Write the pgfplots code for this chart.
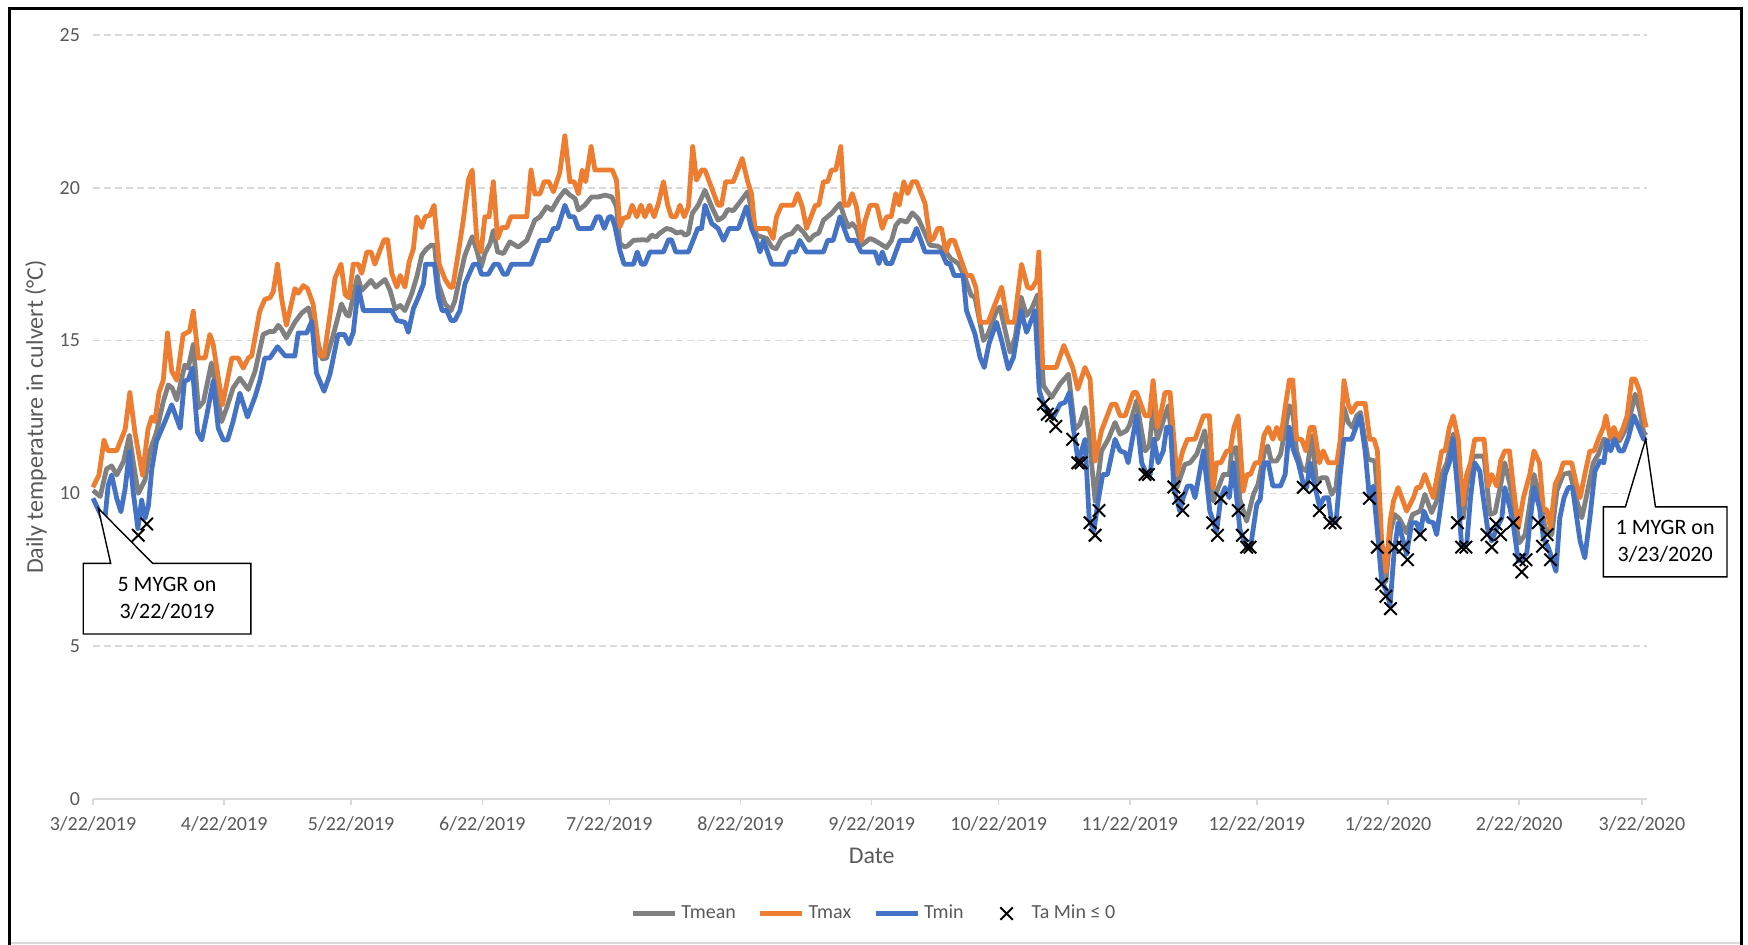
\documentclass[border=0pt]{standalone}
\usepackage{pgfplots}
\pgfplotsset{compat=1.18}
\usepackage{fontspec}
\setmainfont{Carlito}
\definecolor{tmax}{HTML}{ED7D31}
\definecolor{tmean}{HTML}{808080}
\definecolor{tmin}{HTML}{4472C4}
\definecolor{lab}{HTML}{595959}
\definecolor{grd}{HTML}{D9D9D9}
\pgfplotsset{lineleg/.style={legend image code/.code={\draw[##1] (0pt,0pt) -- (21pt,0pt);}},
  markleg/.style={legend image code/.code={\path[draw=none,fill=none] (0pt,0pt) -- (21pt,0pt); \draw[##1] plot coordinates {(10.5pt,0pt)};}}}
\begin{document}
\begin{tikzpicture}
\begin{axis}[
  at={(0pt,0pt)}, anchor=south west,
  scale only axis, width=777.2pt, height=382pt,
  xmin=0, xmax=367.3, ymin=0, ymax=25,
  clip=false,
  axis x line*=bottom, axis y line*=left,
  x axis line style={draw=grd, line width=0.75pt, -},
  y axis line style={draw=none},
  xtick={0,31,61,92,122,153,184,214,245,275,306,337,366},
  xticklabels={3/22/2019,4/22/2019,5/22/2019,6/22/2019,7/22/2019,8/22/2019,9/22/2019,10/22/2019,11/22/2019,12/22/2019,1/22/2020,2/22/2020,3/22/2020},
  ytick={0,5,...,25},
  xtick style={draw=grd, line width=0.75pt},
  ytick style={draw=none},
  tick align=outside, major tick length=3pt,
  ymajorgrids, grid style={draw=grd, line width=0.75pt, dash pattern=on 3.5pt off 2pt},
  /pgf/number format/assume math mode=true,
  ticklabel style={font=\fontsize{10}{12}\selectfont, text=lab},
  xticklabel style={yshift=-2.2pt},
  xlabel={Date}, ylabel={Daily temperature in culvert (°C)},
  label style={font=\fontsize{12}{14}\selectfont, text=lab},
  xlabel style={at={(axis description cs:0.501,-0.0746)}, anchor=center},
  ylabel style={at={(axis description cs:-0.0367,0.5)}, anchor=center},
  legend columns=4,
  legend style={at={(0.503,-0.15)}, anchor=center, draw=none, fill=none,
    font=\fontsize{10}{12}\selectfont, text=lab,
    /tikz/every even column/.append style={column sep=9pt}},
  legend cell align=left,
]
\addplot[tmean, line width=2.4pt, line join=round, lineleg] coordinates {
(0,10.1) (1.7,9.9) (3.2,10.8) (4.4,10.9) (5.6,10.6) (7.2,11.04) (8.6,11.9) (9.5,11.04) (10.7,10.0) (12.3,10.44)
(13.5,11.4) (15,12.0) (16.6,13.0) (17.8,13.55) (18.7,13.45) (19.8,13.06) (21.7,14.2) (22.5,14.1) (23.7,14.87) (24.9,12.8)
(26.1,13.0) (28,14.27) (29.2,13.34) (30.4,12.35) (31.6,12.8) (33.1,13.45) (34.7,13.77) (36.7,13.4) (38.3,14.0) (40.2,15.2)
(41.8,15.3) (42.8,15.3) (43.8,15.5) (44.6,15.36) (45.7,15.09) (47.7,15.6) (49.3,15.9) (50.9,16.07) (52,15.5) (54.2,14.4)
(55.2,14.43) (56.8,15.2) (58.7,16.2) (59.9,15.85) (60.5,15.8) (62.5,17.1) (63.5,16.64) (65.7,16.97) (66.8,16.75) (69,17.0)
(70.2,16.64) (71.4,16.04) (72.6,16.15) (73.7,15.98) (75.3,16.53) (76.5,17.08) (77.7,17.8) (78.8,18.0) (79.9,18.12) (80.7,18.12)
(81.6,16.86) (83.2,16.2) (84.6,15.98) (85.5,16.3) (86.7,17.08) (87.9,17.8) (89.6,18.4) (90.7,17.95) (91.7,17.4) (92.6,17.85)
(93.8,18.17) (94.6,18.6) (95.6,17.9) (97,17.85) (98.5,18.23) (100.5,18.06) (102.5,18.28) (104.4,18.94) (105.6,19.05) (107.2,19.38)
(108.4,19.27) (110,19.65) (111.5,19.92) (112.7,19.76) (113.9,19.65) (114.7,19.27) (116.2,19.43) (117.8,19.7) (119.4,19.7) (121,19.76)
(122.6,19.7) (123.7,19.38) (124.5,18.17) (125.7,18.06) (126.5,18.12) (127.7,18.28) (130,18.3) (131,18.28) (132,18.45) (133,18.39)
(134,18.52) (135.5,18.67) (136.7,18.63) (137.9,18.52) (139,18.56) (139.9,18.45) (140.7,18.5) (141.6,19.16) (143,19.43) (144.6,19.92)
(146.2,19.38) (147.7,18.94) (149,19.05) (150,19.29) (151.3,19.25) (152.9,19.54) (154.7,19.87) (155.6,19.27) (156.8,18.45) (159.2,18.34)
(160.4,18.06) (161.4,18.0) (162.7,18.34) (163.9,18.45) (165.1,18.5) (166.5,18.74) (167.8,18.56) (169.2,18.28) (170.4,18.45) (171.5,18.52)
(172.6,18.94) (174.5,19.16) (176.5,19.49) (177.5,19.05) (178.5,18.72) (179.4,18.83) (180.4,18.67) (181.6,18.12) (183.6,18.34) (184.4,18.3)
(186,18.17) (187.5,18.04) (188.7,18.28) (189.7,18.77) (190.7,18.94) (192.3,18.88) (193.6,19.18) (195,18.99) (196.6,18.5) (197.8,18.12)
(199.6,18.09) (201.3,17.95) (202.7,17.68) (204.5,17.52) (206,17.08) (207.5,16.48) (208.4,16.42) (210.4,15.0) (211.5,15.22) (213.5,15.98)
(214.3,16.1) (216.7,14.62) (217.9,15.1) (219.3,16.42) (220.6,15.82) (221.8,16.04) (223.2,16.5) (224.6,13.52) (226.5,13.14) (228.5,13.58)
(230.5,13.9) (232,12.1) (233.2,12.26) (234.4,12.81) (235.2,12.1) (236.8,9.75) (238.3,11.39) (239.9,11.77) (241.5,12.32) (242.7,11.94)
(244.2,12.05) (245,12.26) (246.6,13.03) (247.4,12.32) (248.6,11.39) (249.6,11.55) (250.5,12.81) (251.5,11.77) (252.9,12.37) (254.1,12.87)
(256.1,10.19) (258,10.95) (259.2,11.0) (260.8,11.28) (262.7,12.05) (264.7,9.75) (265.9,10.19) (267.1,10.62) (268.5,10.62) (269.1,11.44)
(270.1,11.5) (271,9.8) (272.6,9.09) (274.2,9.97) (275.3,10.3) (276.9,11.44) (277.6,11.55) (278.4,11.06) (279.7,11.06) (280.6,11.28)
(281.7,12.05) (282.7,12.87) (283.5,12.7) (284.4,11.39) (285.6,10.84) (286.8,10.73) (288,11.88) (289.1,10.4) (290.3,10.51) (291.5,10.51)
(292.7,9.97) (293.7,10.19) (294.7,11.5) (295.6,12.81) (296.6,12.32) (297.6,12.16) (298.6,12.54) (299.5,12.65) (301.3,11.12) (302.9,11.06)
(304.5,8.22) (305.5,7.12) (306.6,8.76) (307.6,9.31) (308.8,9.15) (310.4,8.71) (311.8,9.31) (313.6,9.42) (314.7,9.97) (316.3,9.37)
(317.5,9.75) (318.7,10.62) (319.9,11.0) (321.4,11.94) (322.6,11.39) (323.8,9.2) (324.7,10.3) (326.2,11.22) (328.7,11.22) (330.1,9.31)
(331.3,9.37) (332.5,10.19) (333.6,11.0) (334.8,10.3) (336,9.2) (337,8.38) (338.4,8.65) (339.5,9.64) (340.5,10.62) (341.8,9.91)
(343.1,8.87) (344.7,8.65) (345.9,10.08) (347.4,10.62) (349,10.68) (350.4,9.86) (351.8,9.2) (353,9.97) (354.5,11.0) (355.7,11.28)
(357,11.77) (358.1,11.72) (359.2,11.83) (360.7,11.72) (362.4,12.16) (363.6,12.76) (364.4,13.25) (365.5,12.7) (366.4,11.99) (367,11.9)
};
\addlegendentry{Tmean}
\addplot[tmax, line width=2.4pt, line join=round, lineleg] coordinates {
(0,10.2) (1.4,10.6) (2.6,11.75) (3.5,11.4) (5.6,11.4) (7.6,12.1) (8.7,13.3) (9.9,12.0) (11.7,10.6) (13,12.1)
(13.9,12.5) (14.6,12.35) (15.6,13.3) (16.6,13.7) (17.6,15.25) (18.6,14.0) (19.8,13.7) (21.3,15.2) (22.8,15.3) (23.7,15.96)
(24.9,14.43) (26.5,14.43) (27.6,15.2) (28.4,14.87) (30.6,12.9) (32.8,14.43) (34.3,14.43) (35.5,14.1) (36.7,14.43) (37.5,14.5)
(39.4,15.96) (40.6,16.35) (41.8,16.4) (42.6,16.6) (43.6,17.5) (44.6,16.35) (45.7,15.5) (47.7,16.7) (48.5,16.55) (49.7,16.8)
(50.7,16.7) (52,16.2) (53.6,14.5) (54.6,14.5) (56,15.85) (57.2,17.05) (58.6,17.5) (59.6,16.5) (60.5,16.4) (61.5,17.5)
(62.7,17.5) (63.5,17.2) (64.7,17.9) (65.7,17.9) (66.6,17.5) (67.8,17.95) (68.8,18.3) (69.6,18.3) (70.6,17.2) (71.8,16.75)
(72.6,17.13) (73.7,16.75) (74.7,17.57) (75.7,18.0) (76.5,19.05) (77.7,18.7) (78.5,19.05) (79.6,19.1) (80.6,19.43) (81.8,17.5)
(83.2,17.0) (84.4,16.75) (85,16.75) (86.3,17.85) (87.5,18.94) (88.7,20.25) (89.6,20.58) (90.7,18.28) (91.7,17.9) (92.6,19.05)
(93.6,19.05) (94.6,20.2) (95.6,18.34) (96.6,18.7) (97.8,18.7) (98.7,19.05) (102.5,19.05) (103.5,20.58) (104.4,19.8) (105.6,19.8)
(106.6,20.2) (107.7,20.2) (108.8,19.87) (110.3,20.5) (111.5,21.7) (112.7,20.2) (113.7,20.2) (114.7,19.8) (115.6,20.58) (116.4,20.2)
(117.7,21.35) (118.6,20.58) (122.7,20.58) (123.7,20.25) (124.5,18.72) (125.3,19.0) (126.5,19.05) (127.4,19.43) (128.5,19.05) (129.5,19.43)
(130.4,19.05) (131.5,19.43) (132.6,19.05) (133.6,19.49) (134.8,20.2) (135.8,19.43) (136.7,19.05) (137.7,19.05) (138.7,19.43) (139.7,19.05)
(140.7,19.38) (141.7,21.35) (142.6,20.25) (143.8,20.58) (144.6,20.58) (147.7,19.43) (148.5,19.43) (149.5,20.2) (151.3,20.2) (153.4,20.96)
(154.7,20.2) (155.6,19.81) (156.4,18.67) (159.6,18.67) (160.7,18.34) (161.5,19.05) (162.7,19.43) (165.5,19.43) (166.5,19.81) (167.6,19.38)
(168.6,18.67) (170.7,19.43) (171.5,19.43) (172.6,20.2) (173.6,20.2) (174.5,20.58) (175.5,20.58) (176.7,21.35) (177.5,19.43) (178.5,19.43)
(179.4,19.81) (180.4,19.38) (181.6,18.28) (182.4,18.9) (183.6,19.43) (185.2,19.43) (186.5,18.67) (187.5,19.05) (188.6,19.05) (189.7,19.81)
(190.5,19.43) (191.6,20.2) (192.5,19.81) (193.6,20.2) (194.6,20.2) (196.6,19.49) (197.8,18.28) (198.6,18.34) (199.6,18.67) (200.5,18.67)
(201.5,17.9) (202.5,18.28) (203.5,18.28) (206.4,17.13) (207.6,17.13) (208.6,16.75) (209.6,15.6) (211.5,15.6) (214.7,16.75) (216.1,15.6)
(217.7,15.6) (219.4,17.5) (220.8,16.75) (221.8,16.7) (223,16.97) (223.5,17.9) (224.4,14.12) (227.6,14.12) (229.4,14.84) (231.5,14.12)
(232.7,13.41) (234.4,14.12) (235.6,13.74) (236.8,11.06) (238.3,12.05) (240.7,12.92) (241.7,12.92) (242.7,12.54) (243.9,12.54) (245.8,13.3)
(246.6,13.3) (248.6,12.54) (249.6,12.54) (250.5,13.69) (251.5,12.16) (252.3,12.6) (253.3,13.3) (254.5,13.3) (256.1,10.62) (257.5,11.39)
(258.6,11.77) (260.4,11.77) (262.4,12.54) (263.8,12.54) (264.7,10.19) (265.5,11.0) (266.5,11.0) (267.9,11.39) (268.7,11.39) (269.6,12.16)
(270.6,12.54) (271.8,10.08) (272.7,10.62) (273.5,10.62) (274.6,11.0) (275.7,11.0) (276.7,11.9) (277.7,12.16) (278.8,11.77) (279.7,12.16)
(280.6,11.77) (281.7,12.81) (282.7,13.71) (283.5,13.71) (284.4,11.77) (285.6,11.77) (286.6,11.39) (287.6,12.16) (288.5,12.16) (289.8,11.0)
(290.7,11.39) (291.9,11.0) (293.9,11.0) (294.7,11.72) (295.6,13.69) (296.6,12.92) (297.4,12.65) (298.6,12.94) (300.6,12.94) (301.7,11.77)
(302.7,11.77) (303.5,11.39) (304.5,8.44) (305.5,7.45) (306.5,9.09) (307.3,9.75) (308.4,10.19) (310.4,9.42) (312,9.86) (312.8,10.19)
(313.6,10.19) (314.7,10.62) (316.7,9.86) (318.7,11.39) (319.5,11.39) (320.5,12.16) (321.4,12.54) (322.6,11.77) (323.6,9.64) (324.6,10.62)
(325.5,11.0) (326.5,11.77) (328.7,11.77) (329.7,10.24) (330.5,10.62) (331.7,10.24) (332.6,11.06) (333.6,11.39) (334.7,11.39) (335.6,10.24)
(336.8,8.87) (338,9.86) (339.5,10.62) (340.5,11.39) (341.8,11.0) (342.7,9.47) (343.5,9.47) (344.4,8.87) (345.5,10.3) (346.6,10.62)
(347.4,11.0) (349.4,11.0) (350.6,10.24) (351.4,9.86) (352.5,10.62) (353.7,11.39) (354.7,11.39) (355.7,11.77) (356.9,12.16) (357.5,12.54)
(358.5,11.83) (359.4,12.16) (360.4,11.77) (361.6,12.16) (362.5,12.54) (363.6,13.74) (364.4,13.74) (365.4,13.36) (366.4,12.54) (367,12.16)
};
\addlegendentry{Tmax}
\addplot[tmin, line width=2.4pt, line join=round, lineleg] coordinates {
(0,9.84) (1.7,9.34) (2.7,9.0) (3.6,10.27) (4.4,10.6) (5.6,9.84) (6.6,9.4) (7.6,10.16) (8.6,11.37) (9.5,10.05)
(10.6,8.85) (11.5,9.78) (12.3,9.18) (13.1,9.6) (13.9,10.8) (15,11.7) (17,12.35) (18.6,12.9) (20.6,12.13) (21.6,13.67)
(22.5,13.72) (23.5,14.1) (24.7,12.0) (25.7,11.75) (26.9,12.57) (28.4,13.67) (29.6,12.13) (30.8,11.75) (31.8,11.75) (33.1,12.35)
(34.7,13.28) (36.5,12.5) (38.3,13.17) (39.4,13.67) (40.6,14.43) (41.8,14.43) (43.6,14.8) (45.4,14.5) (47.7,14.5) (48.5,15.25)
(50.5,15.25) (51.7,15.63) (52.8,13.94) (54.6,13.34) (56,13.9) (57.9,15.2) (59.4,15.2) (60.5,14.89) (61.5,15.27) (62.7,16.75)
(63.9,15.98) (70.6,15.98) (71.8,15.66) (73.7,15.6) (74.5,15.27) (75.7,16.04) (76.9,16.42) (78.1,16.86) (78.6,17.5) (80.7,17.5)
(81.6,16.42) (82.5,15.98) (83.6,15.98) (84.6,15.66) (85.5,15.66) (86.7,15.98) (87.9,16.86) (89.9,17.5) (91,17.5) (91.8,17.17)
(93.4,17.17) (94.8,17.5) (95.8,17.5) (97,17.17) (97.8,17.17) (98.9,17.5) (103.5,17.5) (105.6,18.28) (107.6,18.28) (108.8,18.67)
(109.8,18.67) (111.5,19.43) (112.6,19.05) (113.7,19.05) (114.7,18.67) (117.8,18.67) (119,19.05) (119.8,19.05) (120.8,18.67) (121.9,19.05)
(122.6,19.05) (123.3,18.75) (124.5,17.95) (125.5,17.5) (127.7,17.5) (128.6,17.9) (129.6,17.5) (130.4,17.5) (131.6,17.9) (134.8,17.9)
(136,18.3) (136.7,18.3) (137.7,17.9) (140.7,17.9) (141.8,18.28) (142.9,18.67) (143.8,18.67) (144.6,19.43) (146.2,18.83) (147.7,18.67)
(149,18.28) (150.3,18.67) (152.5,18.67) (154.4,19.38) (155.6,18.67) (156.8,18.28) (157.6,17.9) (158.4,18.28) (160.4,17.5) (163.5,17.5)
(164.7,17.9) (165.9,17.9) (167,18.28) (168.6,17.9) (172.6,17.9) (173.6,18.28) (174.9,18.28) (176.5,19.05) (177.5,18.67) (178.5,18.28)
(180.2,18.28) (181.5,17.9) (184.8,17.9) (185.7,17.52) (186.5,17.9) (187.5,17.52) (188.7,17.52) (190.7,18.28) (193.4,18.28) (194.6,18.67)
(196.6,17.9) (200.5,17.9) (201.7,17.52) (202.5,17.52) (203.5,17.13) (205.6,17.13) (206.4,15.98) (208.4,15.22) (209.6,14.45) (210.6,14.12)
(211.7,14.89) (213.5,15.6) (214.7,15.0) (216.3,14.07) (217.5,14.45) (219.3,15.98) (220.6,15.27) (222.6,15.98) (223.6,13.36) (224.6,12.92)
(226.9,12.48) (228.5,12.92) (229.7,12.98) (230.7,13.3) (231.6,12.16) (232.8,11.06) (233.6,11.39) (234.4,11.77) (235.4,9.15) (236.5,8.76)
(237.5,9.75) (238.6,10.62) (239.7,10.62) (241.5,11.77) (242.7,11.39) (243.9,11.33) (244.6,11.0) (246.6,12.54) (247.8,11.0) (249,10.62)
(249.8,10.62) (250.7,11.77) (251.7,11.0) (252.9,11.39) (253.7,12.16) (254.6,12.16) (255.4,10.19) (256.8,9.42) (257.6,9.86) (258.6,10.24)
(259.6,10.24) (260.4,9.86) (262.4,11.39) (263.9,9.42) (265.5,8.76) (266.5,9.86) (267.5,10.19) (268.5,9.86) (269.4,11.0) (271,8.82)
(272.6,8.22) (273.5,8.22) (275,9.64) (275.8,9.8) (276.7,11.0) (277.7,11.0) (278.8,10.24) (280.6,10.24) (281.7,10.62) (282.7,12.16)
(283.6,11.44) (284.8,11.0) (286,10.3) (286.8,10.19) (287.6,11.0) (288.8,10.19) (289.8,9.58) (290.9,9.86) (291.9,9.86) (292.7,9.04)
(293.7,9.04) (294.7,10.62) (295.6,11.77) (297.4,11.77) (299.4,12.54) (300.6,11.39) (301.6,9.86) (302.5,10.24) (303.7,8.44) (304.5,7.12)
(305.5,6.85) (306.5,6.36) (307.4,8.0) (308.4,9.04) (309.2,8.65) (310.4,8.0) (311.6,9.04) (312.8,9.04) (313.6,8.65) (314.5,9.42)
(315.5,9.09) (316.7,9.04) (317.5,8.65) (319.5,10.62) (320.5,11.0) (321.4,11.77) (322.6,9.86) (323.4,8.27) (324.6,8.33) (325.5,9.86)
(326.5,11.0) (327.7,10.73) (328.5,9.86) (329.5,8.87) (330.5,8.44) (331.7,8.87) (332.9,9.2) (333.6,10.19) (334.8,9.53) (335.6,8.98)
(336.8,7.78) (337.8,7.89) (338.8,8.05) (339.5,8.98) (340.5,10.19) (341.8,9.53) (342.7,8.54) (343.9,8.22) (345.7,7.45) (346.6,9.2)
(347.6,9.86) (348.6,10.19) (349.6,10.19) (350.6,9.2) (351.4,8.44) (352.5,7.89) (353.7,9.2) (354.9,10.73) (356.1,11.06) (357,11.0)
(357.7,11.72) (358.6,11.39) (359.6,11.77) (360.7,11.39) (361.6,11.39) (362.8,11.83) (364.1,12.54) (365.1,12.21) (366.4,11.77) (367,11.83)
};
\addlegendentry{Tmin}
\addplot[only marks, mark=x, mark size=4.4pt, black, mark options={line width=1pt}, markleg] coordinates {
(10.7,8.63) (12.7,9.0) (224.6,12.92) (225.5,12.59) (226.5,12.54) (227.5,12.19) (231.5,11.77) (232.7,11.0) (233.5,11.0) (235.6,9.04)
(236.8,8.63) (237.7,9.44) (248.6,10.62) (249.4,10.62) (255.4,10.21) (256.5,9.84) (257.5,9.44) (264.6,9.04) (265.7,8.63) (266.5,9.84)
(270.6,9.44) (271.6,8.63) (272.6,8.24) (273.4,8.24) (286,10.2) (288.8,10.2) (289.8,9.44) (292.3,9.04) (293.5,9.04) (301.6,9.84)
(303.5,8.24) (304.5,7.03) (305.5,6.63) (306.6,6.23) (307.6,8.24) (309.6,8.24) (310.6,7.83) (313.6,8.65) (322.4,9.04) (323.4,8.24)
(324.4,8.24) (329.4,8.65) (330.5,8.24) (331.5,9.0) (332.6,8.65) (335.6,9.04) (337,7.83) (337.6,7.43) (338.6,7.83) (341.5,9.04)
(342.5,8.27) (343.6,8.65) (344.4,7.83)
};
\addlegendentry{Ta Min ≤ 0}
\draw[black, line width=0.7pt, fill=white, line join=miter]
  (axis cs:-2.3,5.40) -- (axis cs:37.3,5.40) -- (axis cs:37.3,7.71) -- (axis cs:14.1,7.71)
  -- (axis cs:1.25,9.51) -- (axis cs:4.18,7.71) -- (axis cs:-2.3,7.71) -- cycle;
\node[align=center, font=\fontsize{11}{13.5}\selectfont, text=black] at (axis cs:17.5,6.55) {5 MYGR on\\3/22/2019};
\draw[black, line width=0.7pt, fill=white, line join=miter]
  (axis cs:356.9,7.27) -- (axis cs:386.1,7.27) -- (axis cs:386.1,9.56) -- (axis cs:369.2,9.56)
  -- (axis cs:366.9,11.78) -- (axis cs:362.1,9.56) -- (axis cs:356.9,9.56) -- cycle;
\node[align=center, font=\fontsize{11}{13.5}\selectfont, text=black] at (axis cs:371.5,8.42) {1 MYGR on\\3/23/2020};
\end{axis}
\draw[grd, line width=0.6pt] (-41.5pt,-72pt) -- (824pt,-72pt);
\draw[black, line width=1.5pt] (-41.5pt,-73pt) -- (-41.5pt,395.25pt) -- (824pt,395.25pt) -- (824pt,-73pt);
\pgfresetboundingbox
\path[use as bounding box] (-46.5pt,-73pt) rectangle (827.5pt,399.5pt);
\end{tikzpicture}
\end{document}
